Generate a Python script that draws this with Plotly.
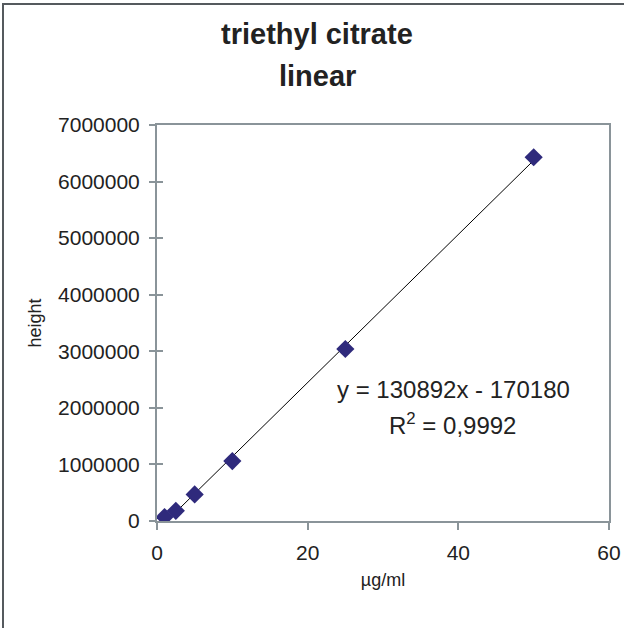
import plotly.graph_objects as go

conc = [1, 2.5, 5, 10, 25, 50]
height = [70000, 180000, 470000, 1060000, 3040000, 6430000]
slope = 130892
intercept = -170180
r2_text = "0,9992"
x_ticks = [0, 20, 40, 60]
y_ticks = [0, 1000000, 2000000, 3000000, 4000000, 5000000, 6000000, 7000000]

W, H = 624, 628
L, R, T, B = 157, 15, 125, 107
pw, ph = W - L - R, H - T - B

def px(xp):
    return (xp - L) / pw

def py(yp):
    return (H - B - yp) / ph

trend_x = [min(conc), max(conc)]
trend_y = [slope * v + intercept for v in trend_x]

font = "Liberation Sans, Arial, sans-serif"
axis_col = "#8A9499"
txt = "#222222"

fig = go.Figure()
fig.add_trace(go.Scatter(x=trend_x, y=trend_y, mode="lines",
                         line=dict(color="black", width=1), showlegend=False,
                         hoverinfo="skip"))
fig.add_trace(go.Scatter(x=conc, y=height, mode="markers",
                         marker=dict(symbol="diamond", size=14, color="#2F2A7C",
                                     line=dict(width=0)),
                         showlegend=False))
fig.add_trace(go.Scatter(x=[0], y=[0], yaxis="y2", mode="markers",
                         marker=dict(opacity=0), showlegend=False, hoverinfo="skip"))

fig.update_layout(
    width=W, height=H,
    margin=dict(l=L, r=R, t=T, b=B),
    paper_bgcolor="white", plot_bgcolor="white",
    font=dict(family=font, color=txt),
    xaxis=dict(range=[0, 60], tickvals=x_ticks, ticks="outside", ticklen=7,
               tickcolor=axis_col, tickwidth=1.5, automargin=False,
               ticklabelstandoff=5,
               showline=True, linecolor=axis_col, linewidth=2, mirror=True,
               showgrid=False, zeroline=False,
               tickfont=dict(size=21, family=font, color=txt),
               title=dict(text="µg/ml", font=dict(size=18, family=font, color=txt), standoff=10)),
    yaxis=dict(range=[0, 7000000], tickvals=y_ticks, tickformat="d",
               ticks="outside", ticklen=6, tickcolor=axis_col, tickwidth=1.5,
               automargin=False, ticklabelstandoff=5,
               showline=True, linecolor=axis_col, linewidth=2, mirror=True,
               showgrid=False, zeroline=False,
               tickfont=dict(size=21, family=font, color=txt),
               title=dict(text="height", font=dict(size=18, family=font, color=txt), standoff=12)),
    yaxis2=dict(range=[0, 7000000], tickvals=y_ticks, overlaying="y", side="left",
                ticks="inside", ticklen=6, tickcolor=axis_col, tickwidth=1.5,
                automargin=False,
                showticklabels=False, showgrid=False, zeroline=False, showline=False),
)

annots = [
    dict(text="<b>triethyl citrate</b>", x=px(317), y=py(34), size=29),
    dict(text="<b>linear</b>", x=px(317), y=py(76), size=29),
    dict(text=f"y = {slope}x - {abs(intercept)}", x=px(453), y=py(389), size=24),
    dict(text=f"R<sup>2</sup> = {r2_text}", x=px(452), y=py(424), size=24),
]
for a in annots:
    fig.add_annotation(text=a["text"], x=a["x"], y=a["y"], xref="paper", yref="paper",
                       showarrow=False, xanchor="center", yanchor="middle",
                       font=dict(size=a["size"], family=font, color=txt))

fig.add_shape(type="rect", xref="paper", yref="paper",
              x0=px(3), x1=px(640), y0=py(640), y1=py(4),
              line=dict(color="#555A5E", width=2), layer="below")

fig.write_html("out.html")
